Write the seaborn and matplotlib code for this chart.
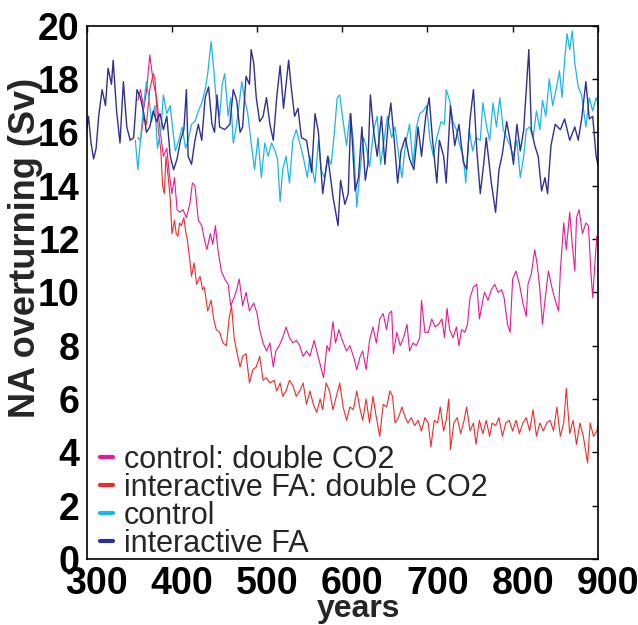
import matplotlib
matplotlib.use('Agg')
import matplotlib.pyplot as plt
import matplotlib.transforms as mtransforms
import pandas as pd
import seaborn as sns

# values (year, Sv)
ifa_years = [300, 302, 305, 308, 311, 314, 318, 322, 325, 329, 331, 335, 339, 343, 347, 351, 355, 359, 363, 367,
             370, 374, 378, 382, 386, 390, 394, 398, 402, 406, 410, 414, 417, 419, 423, 427, 431, 435, 439, 443,
             447, 450, 453, 456, 462, 468, 472, 476, 480, 483, 487, 491, 493, 496, 499, 503, 507, 511, 515, 519,
             523, 527, 531, 537, 540, 544, 548, 552, 558, 564, 568, 572, 577, 583, 589, 595, 598, 603, 607, 610,
             615, 619, 623, 627, 630, 633, 637, 641, 646, 650, 654, 657, 661, 665, 669, 674, 679, 684, 689, 693,
             698, 702, 706, 711, 714, 719, 722, 727, 732, 737, 742, 746, 750, 754, 758, 762, 766, 769, 775, 780,
             784, 788, 793, 797, 801, 805, 809, 813, 816, 819, 822, 826, 830, 834, 838, 841, 845, 850, 856, 861,
             867, 873, 877, 881, 886, 890, 894, 898, 900]
ifa_sv = [16.1, 16.6, 15.6, 15.0, 15.4, 16.6, 17.6, 17.0, 18.4, 17.8, 18.7, 16.8, 15.6, 17.9, 16.2, 15.7, 15.8, 17.6, 17.3, 16.7,
          16.0, 16.2, 16.8, 16.4, 16.7, 16.1, 16.6, 15.1, 14.6, 15.0, 15.7, 16.1, 17.6, 15.1, 14.8, 15.7, 16.3, 15.7, 17.3, 17.7,
          16.3, 16.0, 17.4, 16.2, 16.1, 16.3, 17.6, 17.2, 16.0, 16.2, 18.1, 17.8, 19.1, 18.6, 17.3, 16.4, 16.6, 17.3, 16.3, 15.7,
          17.3, 18.5, 16.9, 18.7, 17.7, 16.6, 16.9, 15.8, 15.7, 14.5, 16.7, 16.0, 13.7, 15.1, 13.6, 12.5, 14.2, 13.3, 13.7, 16.7,
          13.8, 14.3, 16.2, 14.2, 14.8, 17.4, 16.0, 15.1, 16.6, 14.8, 16.4, 17.1, 15.7, 14.1, 15.3, 15.8, 15.0, 14.6, 16.2, 15.1,
          16.6, 17.3, 15.7, 14.1, 15.7, 15.1, 14.1, 17.0, 15.5, 16.3, 14.9, 14.6, 16.5, 17.6, 15.3, 13.7, 14.8, 15.8, 14.1, 13.0,
          14.6, 15.2, 16.4, 15.7, 14.8, 16.3, 15.3, 16.1, 17.6, 19.1, 16.1, 15.5, 15.1, 13.8, 14.3, 13.7, 15.5, 16.3, 16.1, 16.5,
          15.7, 16.2, 15.7, 16.5, 17.9, 16.5, 16.6, 15.1, 14.8]

ctl_years = [357, 360, 363, 367, 370, 373, 376, 380, 383, 387, 390, 394, 398, 401, 404, 408, 412, 416, 419, 423,
             427, 431, 435, 439, 442, 446, 449, 452, 456, 459, 462, 466, 469, 472, 476, 482, 485, 489, 493, 497,
             501, 505, 509, 513, 517, 521, 524, 527, 530, 534, 538, 542, 546, 550, 554, 559, 562, 568, 572, 575,
             579, 583, 587, 591, 594, 597, 601, 605, 609, 613, 617, 621, 625, 628, 632, 637, 641, 645, 649, 653,
             658, 662, 666, 670, 674, 679, 683, 687, 691, 695, 699, 703, 707, 711, 716, 720, 722, 726, 730, 734,
             738, 742, 745, 749, 753, 757, 762, 765, 769, 773, 777, 781, 785, 789, 793, 797, 801, 805, 809, 813,
             816, 820, 824, 828, 832, 835, 839, 843, 847, 851, 855, 858, 861, 864, 867, 870, 873, 877, 881, 886,
             890, 894, 898, 900]
ctl_sv = [15.7, 14.6, 15.7, 17.1, 17.9, 17.3, 16.4, 17.0, 15.4, 16.1, 17.4, 16.7, 17.0, 16.1, 15.3, 15.7, 16.2, 15.4, 15.7, 16.3,
          16.4, 16.8, 17.1, 17.6, 18.2, 19.4, 18.4, 17.2, 16.6, 17.8, 18.2, 16.6, 17.3, 15.6, 16.3, 17.9, 17.3, 16.7, 15.6, 14.6,
          15.8, 14.3, 15.6, 15.1, 15.6, 15.3, 15.0, 13.4, 14.6, 15.1, 14.1, 15.7, 16.1, 15.6, 15.1, 14.3, 15.1, 14.1, 15.7, 14.6,
          14.3, 15.1, 14.8, 16.1, 17.3, 17.4, 16.4, 15.5, 16.7, 15.7, 13.2, 14.6, 15.8, 15.5, 14.7, 16.1, 16.6, 14.8, 15.7, 16.6,
          15.8, 16.2, 15.2, 14.3, 15.5, 16.3, 14.8, 16.2, 16.7, 16.8, 17.0, 15.7, 15.1, 15.8, 16.4, 16.3, 17.6, 17.2, 16.4, 16.1,
          15.5, 15.1, 14.1, 16.1, 15.3, 15.8, 15.7, 17.1, 16.3, 15.7, 17.1, 16.2, 17.3, 16.1, 15.8, 15.5, 15.1, 15.7, 14.3, 15.1,
          16.1, 16.2, 15.8, 16.8, 16.1, 17.2, 16.6, 18.0, 17.0, 17.6, 18.3, 17.3, 18.7, 19.7, 19.1, 19.8, 18.6, 17.7, 17.4, 16.2,
          17.3, 16.8, 17.3, 17.1]

ctl2_years = [360, 363, 367, 370, 374, 378, 382, 386, 390, 394, 397, 400, 403, 406, 409, 413, 417, 421, 424, 427,
              431, 435, 438, 441, 445, 448, 451, 454, 458, 462, 466, 469, 473, 476, 479, 483, 487, 491, 496, 500,
              503, 507, 511, 515, 519, 522, 526, 530, 534, 538, 542, 546, 550, 554, 558, 562, 567, 570, 574, 578,
              582, 585, 589, 592, 596, 600, 605, 609, 614, 617, 621, 624, 628, 632, 636, 640, 644, 648, 652, 655,
              658, 660, 664, 668, 672, 676, 679, 683, 687, 691, 693, 697, 701, 705, 709, 713, 717, 720, 723, 726,
              730, 734, 737, 740, 744, 747, 750, 754, 758, 761, 765, 767, 771, 775, 779, 783, 787, 790, 794, 797,
              800, 804, 808, 812, 816, 818, 822, 826, 829, 832, 835, 838, 842, 846, 850, 854, 856, 860, 863, 867,
              870, 873, 875, 878, 882, 886, 889, 892, 894, 897, 899, 900]
ctl2_sv = [17.2, 17.6, 16.9, 17.5, 18.9, 17.9, 17.3, 16.1, 15.1, 15.4, 14.4, 13.7, 14.3, 13.1, 13.0, 13.1, 12.8, 13.3, 14.1, 14.0,
           12.7, 12.5, 12.0, 11.6, 12.2, 11.8, 12.5, 11.6, 10.8, 10.5, 10.3, 9.5, 9.8, 10.1, 10.5, 9.5, 10.0, 9.3, 9.6, 9.2,
           8.6, 8.1, 7.8, 8.1, 7.2, 7.8, 8.0, 8.3, 8.7, 8.3, 8.1, 8.2, 8.0, 7.6, 7.8, 7.6, 8.2, 7.8, 7.3, 6.8,
           8.0, 7.8, 8.9, 8.1, 8.6, 8.2, 7.8, 8.0, 7.5, 7.1, 7.6, 7.8, 7.1, 8.2, 8.7, 8.1, 9.0, 9.2, 8.6, 9.2,
           9.3, 7.7, 8.5, 8.0, 8.3, 8.8, 7.8, 8.1, 8.0, 8.3, 9.7, 8.5, 8.5, 9.0, 8.7, 8.8, 9.0, 8.3, 9.4, 8.6,
           8.3, 8.7, 8.0, 8.6, 8.5, 8.8, 9.8, 10.2, 10.3, 9.0, 9.7, 10.0, 9.7, 10.1, 10.3, 10.0, 10.1, 9.8, 8.8, 8.5,
           10.5, 10.8, 10.3, 9.6, 9.1, 10.3, 10.7, 11.6, 11.0, 10.1, 8.8, 9.7, 10.8, 10.2, 9.7, 9.3, 10.8, 12.6, 11.6, 13.0,
           11.8, 10.8, 12.8, 13.1, 12.2, 12.6, 12.5, 10.7, 9.8, 11.3, 12.1, 12.0]

ifa2_years = [360, 363, 367, 370, 374, 378, 380, 382, 384, 387, 389, 391, 393, 396, 398, 400, 403, 405, 407, 409,
              411, 414, 416, 418, 421, 423, 426, 429, 433, 436, 438, 442, 446, 449, 452, 456, 460, 464, 467, 470,
              473, 476, 480, 483, 487, 491, 495, 499, 503, 507, 511, 515, 520, 523, 527, 530, 534, 538, 542, 546,
              550, 554, 558, 562, 566, 570, 574, 577, 581, 585, 589, 593, 597, 601, 605, 609, 613, 617, 621, 624,
              628, 632, 636, 640, 644, 648, 652, 656, 659, 662, 666, 670, 674, 677, 681, 685, 689, 693, 697, 701,
              704, 708, 712, 715, 719, 722, 725, 727, 731, 735, 739, 743, 746, 750, 754, 757, 761, 765, 769, 773,
              776, 780, 784, 788, 792, 796, 800, 804, 808, 812, 816, 820, 824, 828, 832, 836, 840, 844, 848, 852,
              856, 860, 863, 867, 871, 875, 879, 883, 888, 891, 895, 899, 900]
ifa2_sv = [15.8, 15.7, 16.6, 16.3, 17.6, 18.2, 18.0, 17.0, 16.1, 15.3, 14.0, 13.7, 15.1, 14.2, 13.5, 12.2, 12.7, 12.2, 12.1, 12.6,
           12.5, 12.8, 12.3, 12.0, 11.2, 10.6, 11.1, 10.3, 10.6, 10.1, 10.2, 9.3, 9.7, 9.0, 8.6, 8.5, 8.1, 8.0, 9.0, 9.5,
           8.3, 7.8, 7.2, 7.6, 7.7, 6.6, 7.1, 7.2, 7.6, 6.7, 6.8, 6.6, 6.7, 6.3, 6.6, 6.1, 6.3, 6.7, 6.5, 6.1,
           6.3, 6.6, 5.8, 6.3, 5.8, 5.5, 6.0, 5.6, 6.6, 6.3, 5.6, 6.1, 6.6, 5.7, 5.2, 5.7, 5.6, 6.3, 5.6, 5.2,
           6.0, 5.1, 6.1, 5.3, 4.6, 5.8, 5.7, 6.3, 6.1, 5.1, 5.3, 5.7, 5.3, 5.1, 5.3, 5.0, 5.2, 4.8, 5.3, 5.1,
           4.2, 5.2, 5.1, 5.7, 4.8, 5.2, 6.0, 4.1, 5.1, 5.3, 4.7, 5.2, 5.7, 4.8, 5.1, 4.3, 5.2, 4.7, 5.2, 4.6,
           5.1, 5.0, 5.3, 4.6, 5.1, 5.2, 4.8, 5.2, 4.7, 5.1, 5.3, 4.8, 5.6, 4.6, 5.1, 4.8, 5.1, 5.2, 4.8, 5.7,
           4.6, 5.1, 6.4, 4.7, 5.2, 4.3, 5.1, 4.6, 3.6, 5.1, 4.6, 4.8, 5.0]

labels = ['control: double CO2', 'interactive FA: double CO2', 'control', 'interactive FA']
colors = ['#e8198f', '#ee2b2b', '#1cb5ea', '#2e3190']
widths = [0.8, 0.8, 0.9, 1.0]

series = [(ctl2_years, ctl2_sv), (ifa2_years, ifa2_sv), (ctl_years, ctl_sv), (ifa_years, ifa_sv)]


def main():
    sns.set_theme(style='white')
    plt.rcParams['font.family'] = ['Liberation Sans', 'DejaVu Sans']

    fig, ax = plt.subplots(figsize=(6.38, 6.25), dpi=100)
    fig.subplots_adjust(left=0.136, right=0.937, bottom=0.1056, top=0.959)

    for (yrs, sv), lab, col, lw in zip(series, labels, colors, widths):
        df = pd.DataFrame({'year': yrs, 'Sv': sv})
        sns.lineplot(data=df, x='year', y='Sv', color=col, lw=lw, label=lab, ax=ax)

    ax.set_xlim(300, 900)
    ax.set_ylim(0, 20)
    ax.set_xticks(range(300, 901, 100))
    ax.set_yticks(range(0, 21, 2))
    ax.tick_params(direction='in', length=4, width=1, top=True, right=True,
                   labelsize=27, pad=5, colors='black')
    for lab in ax.get_xticklabels() + ax.get_yticklabels():
        lab.set_fontweight('bold')
    offset = mtransforms.ScaledTranslation(0.10, 0, fig.dpi_scale_trans)
    for lab in ax.get_xticklabels():
        lab.set_transform(lab.get_transform() + offset)
    for sp in ax.spines.values():
        sp.set_color('black')
        sp.set_linewidth(1.2)

    ax.set_xlabel('years', fontsize=23, fontweight='bold')
    ax.set_ylabel('NA overturning (Sv)', fontsize=26, fontweight='bold')
    ax.xaxis.set_label_coords(0.532, -0.065)
    ax.yaxis.set_label_coords(-0.085, 0.583)

    leg = ax.legend(loc='lower left', bbox_to_anchor=(0.025, 0.0), frameon=False,
                    fontsize=22, handlelength=0.45, handletextpad=0.35,
                    labelspacing=-0.06, borderpad=0, borderaxespad=0)
    for line in leg.get_lines():
        line.set_linewidth(3)

    fig.savefig('out.png', dpi=100)


if __name__ == '__main__':
    main()
